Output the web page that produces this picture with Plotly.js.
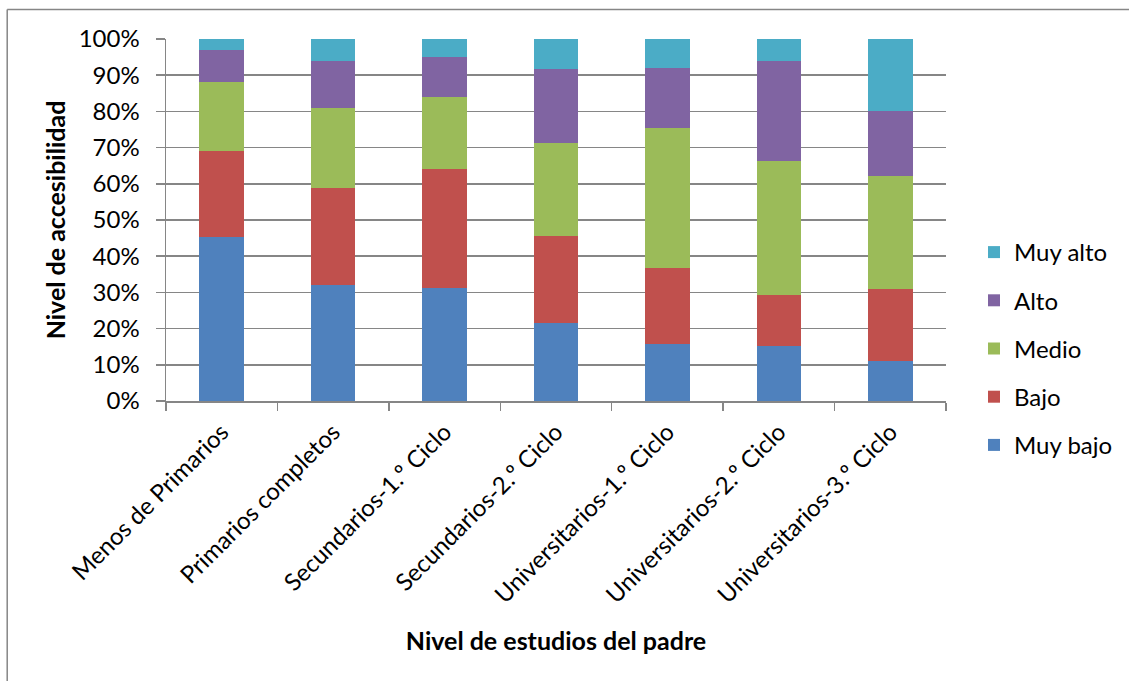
<!DOCTYPE html>
<html>
<head>
<meta charset="utf-8">
<script src="https://cdn.plot.ly/plotly-3.0.1.min.js"></script>
<style>html,body{margin:0;padding:0;background:#fff;}#chart{width:1129px;height:681px;}</style>
</head>
<body>
<div id="chart"></div>
<script>
const categories = ["Menos de Primarios", "Primarios completos", "Secundarios-1.º Ciclo", "Secundarios-2.º Ciclo", "Universitarios-1.º Ciclo", "Universitarios-2.º Ciclo", "Universitarios-3.º Ciclo"];
const muyBajo = [45.4, 32.0, 31.1, 21.5, 15.7, 15.1, 11.0];
const bajo    = [23.7, 26.9, 33.1, 24.2, 21.0, 14.3, 20.0];
const medio   = [18.9, 22.1, 19.8, 25.5, 38.6, 36.8, 31.2];
const alto    = [9.0, 12.8, 11.1, 20.4, 16.8, 27.8, 17.9];
const muyAlto = [3.0, 6.2, 4.9, 8.4, 7.9, 6.0, 19.9];
const seriesNames = ["Muy bajo", "Bajo", "Medio", "Alto", "Muy alto"];
const seriesValues = [muyBajo, bajo, medio, alto, muyAlto];
const seriesColors = ["#4F81BD", "#C0504D", "#9BBB59", "#8064A2", "#4BACC6"];

const FONT = "Lato, 'Open Sans', sans-serif";
const traces = seriesNames.map((name, i) => ({
  type: "bar",
  name: name,
  x: categories,
  y: seriesValues[i].map(v => v / 100),
  marker: {color: seriesColors[i], line: {width: 0}},
  legendgroup: "g" + i,
  legendrank: 100 - i,
  hoverinfo: "x+y+name"
}));

// plot area in pixels: left 166, right 947, top 39, bottom 401
const L = 166, R = 947, T = 39, B = 401;
const px = x => (x - L) / (R - L);
const py = y => (B - y) / (B - T);
const gray = "#868686";

const layout = {
  width: 1129, height: 681,
  margin: {l: L, r: 1129 - R, t: T, b: 681 - B, pad: 0},
  paper_bgcolor: "#ffffff",
  plot_bgcolor: "#ffffff",
  barmode: "stack",
  bargap: 0.6,
  font: {family: FONT, size: 22, color: "#000000"},
  xaxis: {
    type: "category",
    tickangle: -45,
    tickson: "boundaries",
    ticks: "outside", ticklen: 8, tickcolor: gray, tickwidth: 1.5,
    showline: true, linecolor: gray, linewidth: 1.5,
    showgrid: false,
    ticklabelstandoff: 6,
    tickfont: {family: FONT, size: 24, color: "#000"},
    title: {text: "Nivel de estudios del padre", font: {family: FONT, size: 25, color: "#000", weight: "bold"}, standoff: 25},
    fixedrange: true
  },
  yaxis: {
    range: [0, 1],
    tickvals: [0, 0.1, 0.2, 0.3, 0.4, 0.5, 0.6, 0.7, 0.8, 0.9, 1.0],
    tickformat: ".0%",
    ticks: "outside", ticklen: 9, tickcolor: gray, tickwidth: 1.5,
    showline: true, linecolor: gray, linewidth: 1.5,
    showgrid: true, gridcolor: gray, gridwidth: 1.5,
    zeroline: false,
    ticklabelstandoff: 11,
    tickfont: {family: FONT, size: 24, color: "#000"},
    title: {text: "Nivel de accesibilidad", font: {family: FONT, size: 25, color: "#000", weight: "bold"}, standoff: 6},
    fixedrange: true
  },
  legend: {
    x: px(974), y: py(348.5), xanchor: "left", yanchor: "middle",
    traceorder: "grouped",
    tracegroupgap: 14,
    font: {family: FONT, size: 24, color: "#000"},
    bgcolor: "rgba(0,0,0,0)",
    itemclick: false, itemdoubleclick: false
  },
  shapes: [
    {type: "line", xref: "paper", yref: "paper", x0: px(7), x1: px(1135), y0: py(9.5), y1: py(9.5), line: {color: gray, width: 1.5}},
    {type: "line", xref: "paper", yref: "paper", x0: px(7), x1: px(7), y0: py(9.5), y1: py(690), line: {color: gray, width: 1.5}}
  ],
  showlegend: true
};

Plotly.newPlot("chart", traces, layout, {displayModeBar: false, staticPlot: true});
</script>
</body>
</html>
